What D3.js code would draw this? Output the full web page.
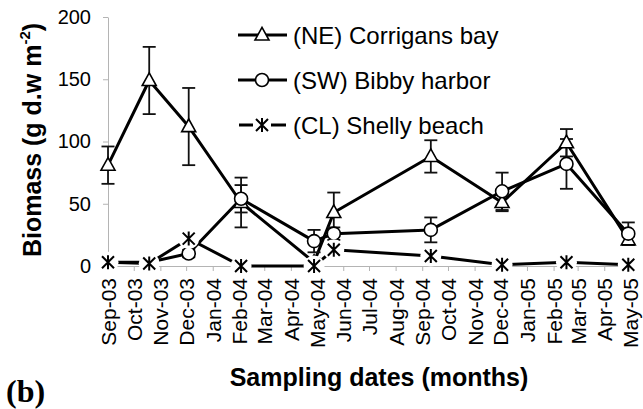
<!DOCTYPE html>
<html><head><meta charset="utf-8">
<script src="https://cdn.jsdelivr.net/npm/d3@7"></script>
<style>
body{margin:0;background:#fff}
svg{display:block}
text{font-family:"Liberation Sans",Arial,sans-serif;fill:#000}
</style>
</head><body>
<svg id="c" width="643" height="409"></svg>
<script>
// ---- data ----
const sampleDates = ["2003-09-01","2003-10-19","2003-12-04","2004-02-03","2004-04-28","2004-05-21","2004-09-11","2004-12-03","2005-02-16","2005-04-29"];
const neValues = [81,149,112,51,3,43,88,51,99,21];
const neErrors = [15,27,31,20,3,16,13,7,11,4];
const swValues = [3,3,10,54,20,26,29,60,82,26];
const swErrors = [1,1,3,11,9,5,10,15,20,9];
const clValues = [3,2,22,0,0,13,8,1,3,1];
const yTicks = [0,50,100,150,200];
const seriesNames = ["(NE) Corrigans bay","(SW) Bibby harbor","(CL) Shelly beach"];
const axisStart = "2003-09-01", axisEnd = "2005-05-01";

const parse = d3.timeParse("%Y-%m-%d");
const dates = sampleDates.map(parse);
const svg = d3.select("#c");

const x = d3.scaleTime().domain([parse(axisStart), parse(axisEnd)]).range([108, 630]);
const y = d3.scaleLinear().domain([0, 200]).range([266, 17]);

// ---- axes ----
const monthTicks = d3.timeMonth.range(parse(axisStart), d3.timeDay.offset(parse(axisEnd), 1));
const gx = svg.append("g").attr("transform", "translate(0,266)")
  .call(d3.axisBottom(x).tickValues(monthTicks).tickFormat(d3.timeFormat("%b-%y")).tickSize(5).tickSizeOuter(0));
gx.select(".domain").attr("stroke", "#b4b4b4");
gx.selectAll(".tick line").attr("stroke", "#b4b4b4");
gx.selectAll(".tick text")
  .attr("transform", "rotate(-90)")
  .attr("x", -12).attr("y", 0).attr("dy", "0.36em")
  .style("text-anchor", "end")
  .style("font-size", "21px");

const gy = svg.append("g").attr("transform", "translate(108,0)")
  .call(d3.axisLeft(y).tickValues(yTicks).tickSize(5).tickSizeOuter(0).tickPadding(12));
gy.select(".domain").attr("stroke", "#b4b4b4");
gy.selectAll(".tick line").attr("stroke", "#b4b4b4");
gy.selectAll(".tick text").style("font-size", "20px");

// ---- helpers ----
function triPath(s) { const h = s * 0.9; return `M0,${-h*0.6}L${s/2},${h*0.4}L${-s/2},${h*0.4}Z`; }
function drawTri(g, cx, cy) {
  g.append("path").attr("d", triPath(14)).attr("transform", `translate(${cx},${cy})`)
    .attr("fill", "#fff").attr("stroke", "#000").attr("stroke-width", 1.6);
}
function drawCirc(g, cx, cy) {
  g.append("circle").attr("cx", cx).attr("cy", cy).attr("r", 6.5)
    .attr("fill", "#fff").attr("stroke", "#000").attr("stroke-width", 1.6);
}
function drawStar(g, cx, cy) {
  g.append("circle").attr("cx", cx).attr("cy", cy).attr("r", 10.5).attr("fill", "#fff");
  const a = 6;
  g.append("path").attr("transform", `translate(${cx},${cy})`)
    .attr("d", `M${-a},${-a}L${a},${a}M${-a},${a}L${a},${-a}M0,${-a-1}L0,${a+1}`)
    .attr("stroke", "#000").attr("stroke-width", 2).attr("fill", "none");
}
const line = d3.line().x(d => x(d[0])).y(d => y(d[1]));

// ---- series lines ----
const neData = dates.map((d, i) => [d, neValues[i], neErrors[i]]);
const swData = dates.map((d, i) => [d, swValues[i], swErrors[i]]);
const clData = dates.map((d, i) => [d, clValues[i]]);

svg.append("path").datum(neData).attr("d", line).attr("fill", "none").attr("stroke", "#000").attr("stroke-width", 3).attr("stroke-linejoin", "round");
svg.append("path").datum(swData).attr("d", line).attr("fill", "none").attr("stroke", "#000").attr("stroke-width", 3).attr("stroke-linejoin", "round");

// ---- error bars ----
const eb = svg.append("g").attr("stroke", "#111").attr("stroke-width", 1.8);
[neData, swData].forEach(data => {
  data.forEach(d => {
    const cx = x(d[0]), t = y(d[1] + d[2]), b = y(Math.max(0, d[1] - d[2]));
    eb.append("line").attr("x1", cx).attr("x2", cx).attr("y1", t).attr("y2", b);
    eb.append("line").attr("x1", cx - 6.5).attr("x2", cx + 6.5).attr("y1", t).attr("y2", t);
    eb.append("line").attr("x1", cx - 6.5).attr("x2", cx + 6.5).attr("y1", b).attr("y2", b);
  });
});

// ---- markers ----
const mk = svg.append("g");
neData.forEach(d => drawTri(mk, x(d[0]), y(d[1])));
swData.forEach(d => drawCirc(mk, x(d[0]), y(d[1])));

svg.append("path").datum(clData).attr("d", line).attr("fill", "none").attr("stroke", "#000").attr("stroke-width", 3);
const mk2 = svg.append("g");
clData.forEach(d => drawStar(mk2, x(d[0]), y(d[1])));

// ---- legend ----
const lg = svg.append("g");
const rows = [35, 80, 125];
rows.forEach((ry, i) => {
  if (i < 2) {
    lg.append("line").attr("x1", 238).attr("x2", 287).attr("y1", ry).attr("y2", ry).attr("stroke", "#000").attr("stroke-width", 3);
    if (i === 0) drawTri(lg, 262, ry); else drawCirc(lg, 262, ry);
  } else {
    lg.append("line").attr("x1", 239).attr("x2", 253).attr("y1", ry).attr("y2", ry).attr("stroke", "#000").attr("stroke-width", 3);
    lg.append("line").attr("x1", 271).attr("x2", 286).attr("y1", ry).attr("y2", ry).attr("stroke", "#000").attr("stroke-width", 3);
    const a = 6;
    lg.append("path").attr("transform", `translate(262,${ry})`)
      .attr("d", `M${-a},${-a}L${a},${a}M${-a},${a}L${a},${-a}M0,${-a-1}L0,${a+1}`)
      .attr("stroke", "#000").attr("stroke-width", 2);
  }
  lg.append("text").attr("x", 293).attr("y", ry).attr("dy", "0.36em").style("font-size", "24px").text(seriesNames[i]);
});

// ---- titles ----
const yt = svg.append("text").attr("transform", "translate(41,140) rotate(-90)")
  .style("text-anchor", "middle").style("font-size", "25px").style("font-weight", "bold");
yt.append("tspan").text("Biomass (g d.w m");
yt.append("tspan").attr("dy", -11).style("font-size", "15px").text("-2");
yt.append("tspan").attr("dy", 11).text(")");

svg.append("text").attr("x", 379).attr("y", 386).style("text-anchor", "middle")
  .style("font-size", "25px").style("font-weight", "bold").text("Sampling dates (months)");

svg.append("text").attr("x", 6).attr("y", 402)
  .style("font-family", "'Liberation Serif','Times New Roman',serif").style("font-size", "32px").style("font-weight", "bold").text("(b)");
</script>
</body></html>
